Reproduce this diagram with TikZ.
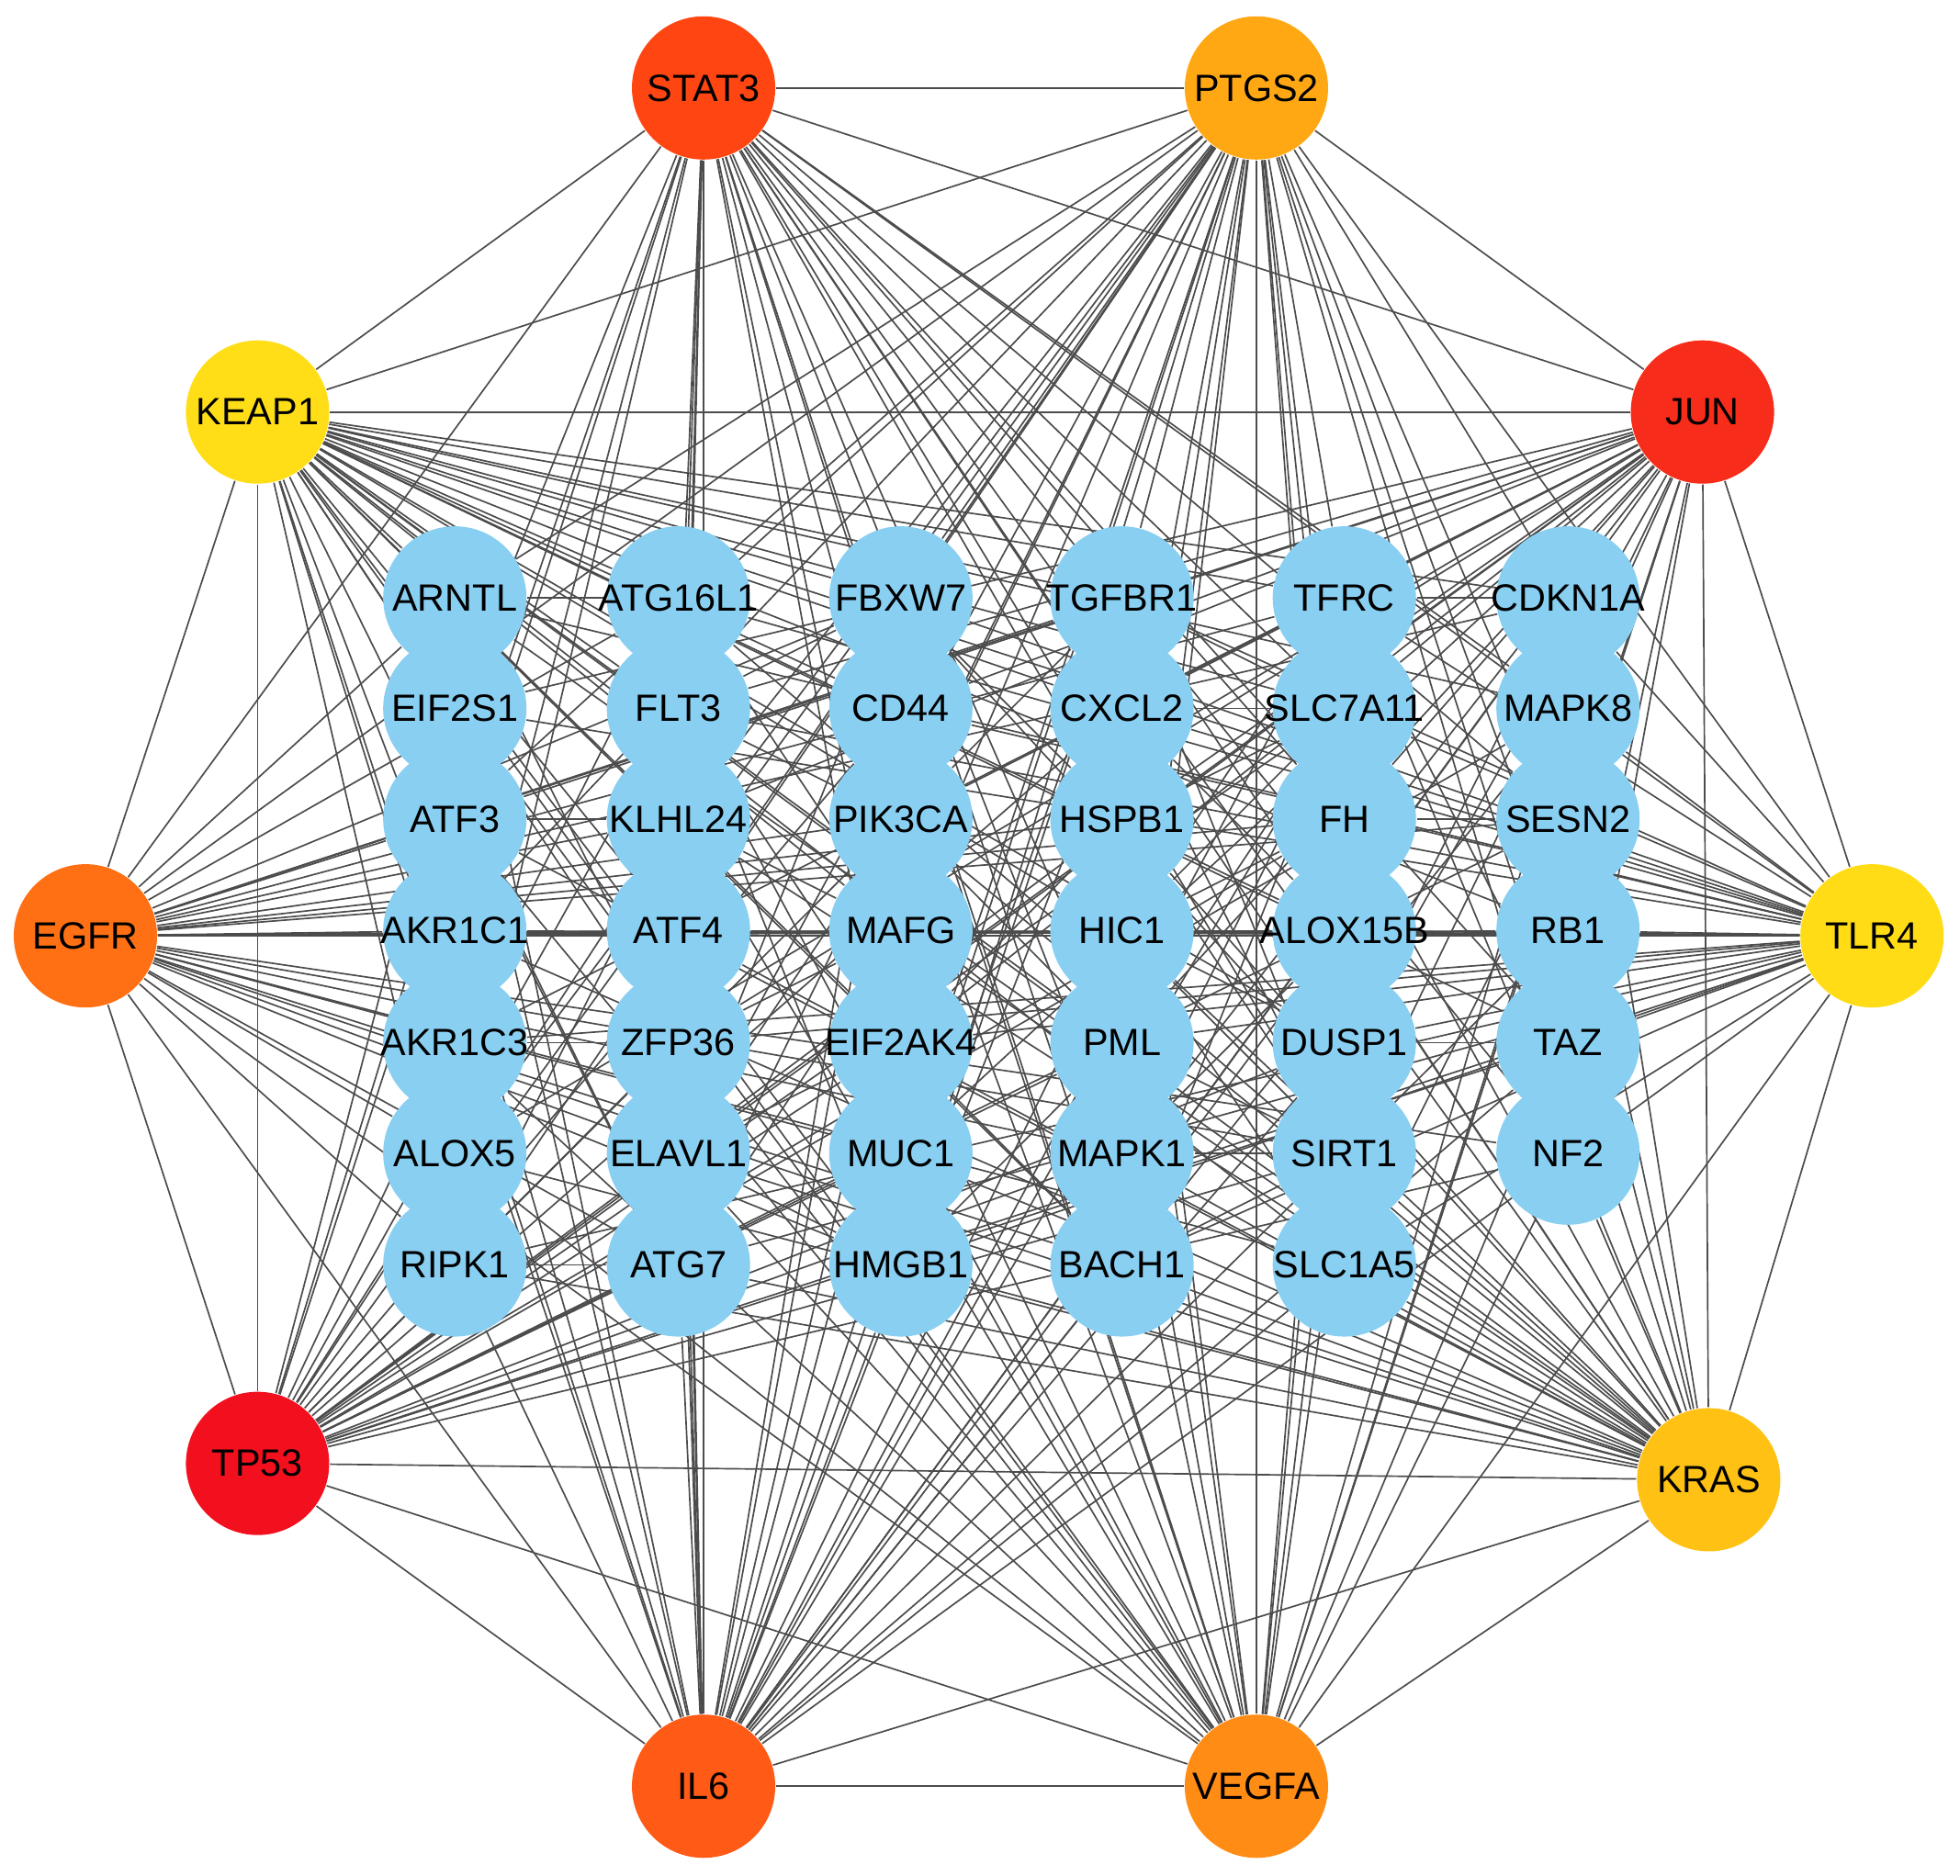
\documentclass[tikz,border=0pt]{standalone}
\usepackage{fontspec}
\setmainfont{Liberation Sans}
\usetikzlibrary{backgrounds}
\definecolor{c1}{HTML}{FF4612}
\definecolor{c2}{HTML}{FFA814}
\definecolor{c3}{HTML}{FFDE18}
\definecolor{c4}{HTML}{F82C1A}
\definecolor{c5}{HTML}{FF7014}
\definecolor{c6}{HTML}{FFDC16}
\definecolor{c7}{HTML}{F2101E}
\definecolor{c8}{HTML}{FFC214}
\definecolor{c9}{HTML}{FF5A16}
\definecolor{c10}{HTML}{FF8C14}
\definecolor{inner}{HTML}{89CFF2}
\tikzset{
  hub/.style={circle,minimum size=1.14cm,inner sep=0pt,font=\fontsize{8.6}{10}\selectfont},
  gene/.style={circle,fill=inner,minimum size=1.14cm,inner sep=0pt,font=\fontsize{8.6}{10}\selectfont},
  edge/.style={draw=black!70,line width=0.35pt}
}
\begin{document}
\begin{tikzpicture}[x=0.01cm,y=-0.01cm]
\useasboundingbox (0,0) rectangle (1560,1493);
\foreach \n/\x/\y/\t in {1/560/70/STAT3,2/1000/70/PTGS2,3/205/328/KEAP1,4/1355/328/JUN,5/68/745/EGFR,6/1490/745/TLR4,7/205/1165/TP53,8/1360/1178/KRAS,9/560/1422/IL6,10/1000/1422/VEGFA}
  {\node[hub,fill=c\n] (o\n) at (\x,\y) {\makebox[0pt]{\t}};}
\foreach \c/\x in {1/362,2/540,3/717,4/893,5/1070,6/1248}
  {\foreach \r/\y in {1/476,2/564,3/652,4/741,5/830,6/918,7/1007}
    {\coordinate (p\c\r) at (\x,\y);}}
\foreach \c/\r/\t in {1/1/ARNTL,1/2/EIF2S1,1/3/ATF3,1/4/AKR1C1,1/5/AKR1C3,1/6/ALOX5,1/7/RIPK1,
 2/1/ATG16L1,2/2/FLT3,2/3/KLHL24,2/4/ATF4,2/5/ZFP36,2/6/ELAVL1,2/7/ATG7,
 3/1/FBXW7,3/2/CD44,3/3/PIK3CA,3/4/MAFG,3/5/EIF2AK4,3/6/MUC1,3/7/HMGB1,
 4/1/TGFBR1,4/2/CXCL2,4/3/HSPB1,4/4/HIC1,4/5/PML,4/6/MAPK1,4/7/BACH1,
 5/1/TFRC,5/2/SLC7A11,5/3/FH,5/4/ALOX15B,5/5/DUSP1,5/6/SIRT1,5/7/SLC1A5,
 6/1/CDKN1A,6/2/MAPK8,6/3/SESN2,6/4/RB1,6/5/TAZ,6/6/NF2}
  {\node[gene] (g\c\r) at (p\c\r) {\makebox[0pt]{\t}};}
\begin{scope}[on background layer]
\foreach \a in {1,...,9}{
  \pgfmathtruncatemacro\s{\a+1}
  \foreach \b in {\s,...,10} {\draw[edge] (o\a) -- (o\b);}
}
\foreach \o in {1,...,10}{
 \foreach \c in {1,...,6}{
  \foreach \r in {1,...,7}{
   \pgfmathtruncatemacro\k{mod(\c*3+\r*5+\o*7,3)}
   \ifnum\numexpr\c*10+\r\relax=67 \else
    \ifnum\k>0 \draw[edge] (o\o) -- (g\c\r); \fi
   \fi
  }}}
\foreach \c in {1,...,5}{
 \pgfmathtruncatemacro\d{\c+1}
 \foreach \r in {1,...,7}{
  \foreach \q in {1,...,7}{
   \pgfmathtruncatemacro\k{mod(\c+\r*\q+2*\r,4)}
   \ifnum\numexpr\d*10+\q\relax=67 \else
    \ifnum\k=0 \draw[edge] (g\c\r) -- (g\d\q); \fi
   \fi
  }}
}
\end{scope}
\end{tikzpicture}
\end{document}
